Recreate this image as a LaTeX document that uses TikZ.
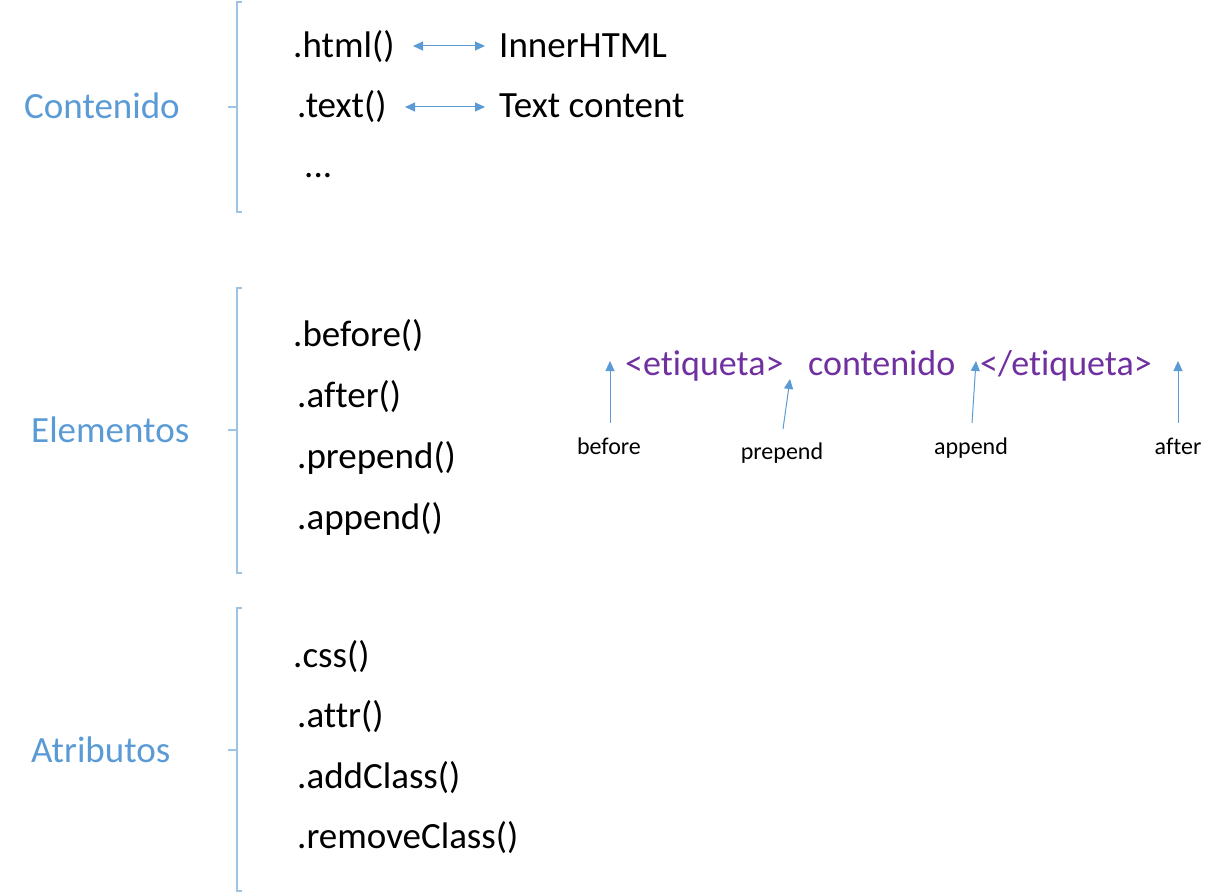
\documentclass[tikz,border=0pt]{standalone}
\usepackage{fontspec}
\setmainfont{Carlito}[Ligatures=NoCommon]
\usetikzlibrary{arrows.meta}
\definecolor{lblue}{HTML}{5B9BD5}
\definecolor{brblue}{HTML}{9DC3E6}
\definecolor{purp}{HTML}{7030A0}
\tikzset{
  cat/.style={anchor=base west,inner sep=0pt,text=lblue,font=\fontsize{37}{40}\selectfont},
  meth/.style={anchor=base west,inner sep=0pt,font=\fontsize{37}{40}\selectfont},
  tag/.style={anchor=base west,inner sep=0pt,text=purp,font=\fontsize{36}{40}\selectfont},
  small/.style={anchor=base,inner sep=0pt,font=\fontsize{24}{28}\selectfont},
  brk/.style={draw=brblue,line width=1.3pt},
  arr/.style={draw=lblue,line width=1pt,-{Triangle[length=10pt,width=9pt]}},
  darr/.style={draw=lblue,line width=1pt,{Triangle[length=10pt,width=9pt]}-{Triangle[length=10pt,width=9pt]}}
}
\begin{document}
\begin{tikzpicture}[x=1pt,y=-1pt]
\useasboundingbox (0,0) rectangle (1218,893);
% brackets
\draw[brk] (242,2) -- (237,2) -- (237,212) -- (242,212);
\draw[brk] (228,107) -- (237,107);
\draw[brk] (242,288) -- (237,288) -- (237,573) -- (242,573);
\draw[brk] (228,430) -- (237,430);
\draw[brk] (242,608) -- (237,608) -- (237,891) -- (242,891);
\draw[brk] (228,750) -- (237,750);
% categories
\node[cat] (cont) at (24,119) {Contenido};
\node[cat] (elem) at (31,442) {Elementos};
\node[cat] (atri) at (31,762) {Atributos};
% contenido
\node[meth] (html) at (293,58) {.html()};
\node[meth] (inner) at (499,58) {InnerHTML};
\node[meth] (text) at (297,118) {.text()};
\node[meth] (tc) at (499,118) {Text content};
\node[meth] (dots) at (304,178) {...};
\coordinate (h1) at (413,46); \coordinate (h2) at (485,46);
\coordinate (t1) at (405,107); \coordinate (t2) at (485,107);
\draw[darr] (h1) -- (h2);
\draw[darr] (t1) -- (t2);
% elementos
\node[meth] (before) at (293,346) {.before()};
\node[meth] (after) at (297,407) {.after()};
\node[meth] (prepend) at (297,468) {.prepend()};
\node[meth] (append) at (297,529) {.append()};
\node[tag] (open) at (625,375) {<etiqueta>};
\node[tag] (conten) at (808,375) {contenido};
\node[tag] (close) at (980,375) {</etiqueta>};
\node[small] (lb) at (609,454) {before};
\node[small] (lp) at (782,459) {prepend};
\node[small] (la) at (971,454) {append};
\node[small] (lf) at (1178,454) {after};
\coordinate (b0) at (610,423); \coordinate (b1) at (610,361);
\coordinate (p0) at (783,429); \coordinate (p1) at (790,379);
\coordinate (a0) at (972,423); \coordinate (a1) at (976,361);
\coordinate (f0) at (1178,423); \coordinate (f1) at (1178,361);
\draw[arr] (b0) -- (b1);
\draw[arr] (p0) -- (p1);
\draw[arr] (a0) -- (a1);
\draw[arr] (f0) -- (f1);
% atributos
\node[meth] (css) at (293,667) {.css()};
\node[meth] (attr) at (297,727) {.attr()};
\node[meth] (addc) at (297,788) {.addClass()};
\node[meth] (remc) at (297,848) {.removeClass()};
\end{tikzpicture}
\end{document}
